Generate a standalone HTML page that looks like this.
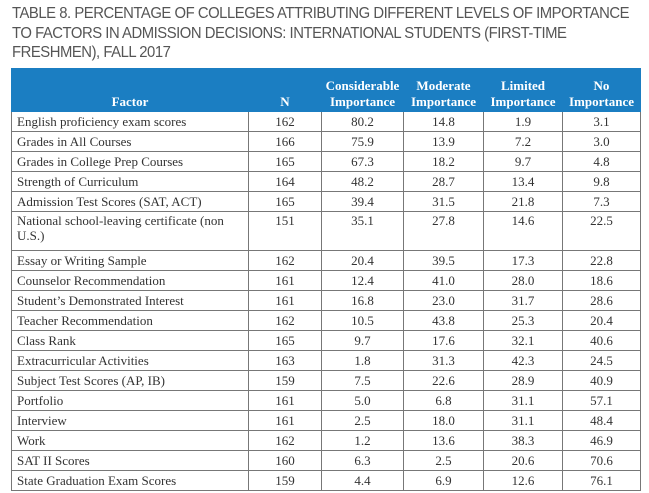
<!DOCTYPE html>
<html><head><meta charset="utf-8"><style>
html,body{margin:0;padding:0;background:#fff;width:649px;height:493px;overflow:hidden}
.t{position:absolute;left:12px;top:4px;font-family:"Liberation Sans",sans-serif;font-size:15.8px;line-height:19.5px;color:#555;letter-spacing:-0.5px;transform:scaleX(0.94);transform-origin:left top;width:720px}
table{position:absolute;left:11px;top:68px;border-collapse:collapse;font-family:"Liberation Serif",serif;font-size:13px;color:#333;table-layout:fixed}
td,th{border:1px solid #777;padding:0 5px;height:19px;line-height:15px}
th{background:#1b7ec2;color:#fff;font-weight:bold;border-color:#1b7ec2;height:41px;vertical-align:bottom;padding-bottom:1px;font-size:13px;padding-left:0;padding-right:0;line-height:16px}
td{text-align:center}
td:first-child{text-align:left}
tr.two td{height:37px;vertical-align:top;padding-top:1px}
</style></head><body>
<div class="t">TABLE 8. PERCENTAGE OF COLLEGES ATTRIBUTING DIFFERENT LEVELS OF IMPORTANCE<br>TO FACTORS IN ADMISSION DECISIONS: INTERNATIONAL STUDENTS (FIRST-TIME<br>FRESHMEN), FALL 2017</div>
<table>
<colgroup><col style="width:237px"><col style="width:73px"><col style="width:82px"><col style="width:80px"><col style="width:79px"><col style="width:78px"></colgroup>
<tr><th>Factor</th><th>N</th><th>Considerable Importance</th><th>Moderate Importance</th><th>Limited Importance</th><th>No Importance</th></tr>
<tr><td>English proficiency exam scores</td><td>162</td><td>80.2</td><td>14.8</td><td>1.9</td><td>3.1</td></tr>
<tr><td>Grades in All Courses</td><td>166</td><td>75.9</td><td>13.9</td><td>7.2</td><td>3.0</td></tr>
<tr><td>Grades in College Prep Courses</td><td>165</td><td>67.3</td><td>18.2</td><td>9.7</td><td>4.8</td></tr>
<tr><td>Strength of Curriculum</td><td>164</td><td>48.2</td><td>28.7</td><td>13.4</td><td>9.8</td></tr>
<tr><td>Admission Test Scores (SAT, ACT)</td><td>165</td><td>39.4</td><td>31.5</td><td>21.8</td><td>7.3</td></tr>
<tr class="two"><td>National school-leaving certificate (non<br>U.S.)</td><td>151</td><td>35.1</td><td>27.8</td><td>14.6</td><td>22.5</td></tr>
<tr><td>Essay or Writing Sample</td><td>162</td><td>20.4</td><td>39.5</td><td>17.3</td><td>22.8</td></tr>
<tr><td>Counselor Recommendation</td><td>161</td><td>12.4</td><td>41.0</td><td>28.0</td><td>18.6</td></tr>
<tr><td>Student’s Demonstrated Interest</td><td>161</td><td>16.8</td><td>23.0</td><td>31.7</td><td>28.6</td></tr>
<tr><td>Teacher Recommendation</td><td>162</td><td>10.5</td><td>43.8</td><td>25.3</td><td>20.4</td></tr>
<tr><td>Class Rank</td><td>165</td><td>9.7</td><td>17.6</td><td>32.1</td><td>40.6</td></tr>
<tr><td>Extracurricular Activities</td><td>163</td><td>1.8</td><td>31.3</td><td>42.3</td><td>24.5</td></tr>
<tr><td>Subject Test Scores (AP, IB)</td><td>159</td><td>7.5</td><td>22.6</td><td>28.9</td><td>40.9</td></tr>
<tr><td>Portfolio</td><td>161</td><td>5.0</td><td>6.8</td><td>31.1</td><td>57.1</td></tr>
<tr><td>Interview</td><td>161</td><td>2.5</td><td>18.0</td><td>31.1</td><td>48.4</td></tr>
<tr><td>Work</td><td>162</td><td>1.2</td><td>13.6</td><td>38.3</td><td>46.9</td></tr>
<tr><td>SAT II Scores</td><td>160</td><td>6.3</td><td>2.5</td><td>20.6</td><td>70.6</td></tr>
<tr><td>State Graduation Exam Scores</td><td>159</td><td>4.4</td><td>6.9</td><td>12.6</td><td>76.1</td></tr>
</table>
</body></html>
